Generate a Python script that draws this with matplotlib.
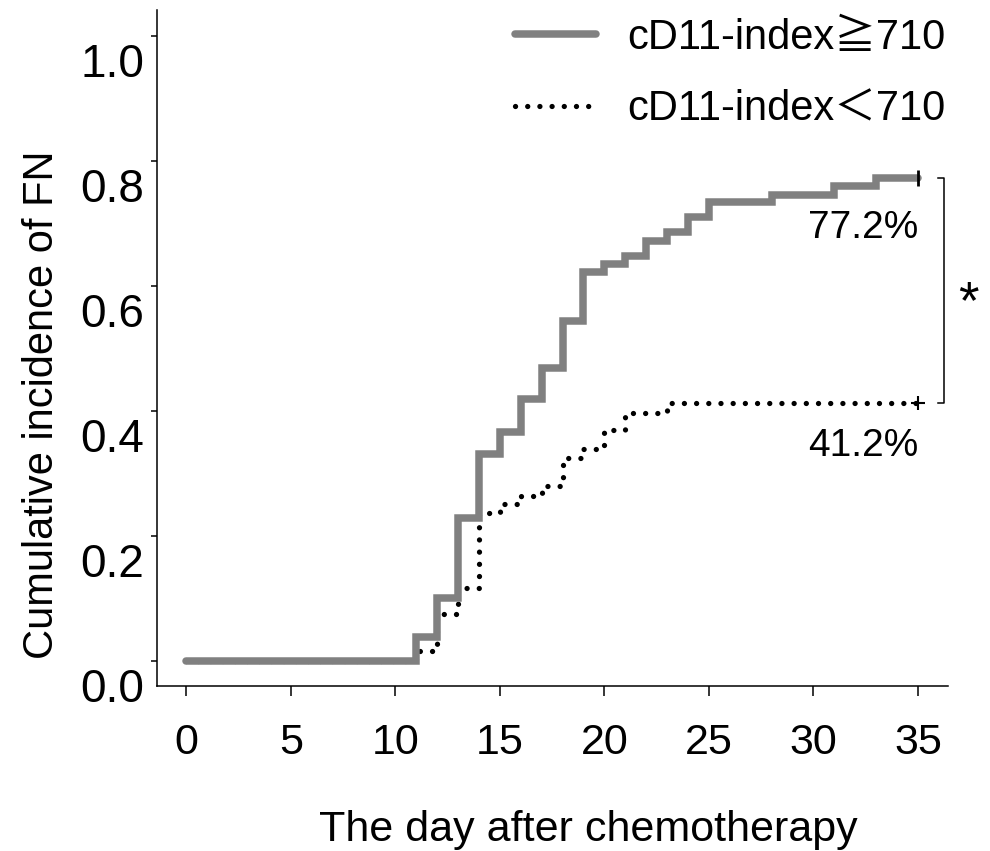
import matplotlib
matplotlib.use("Agg")
import matplotlib.pyplot as plt
import matplotlib.transforms as mtransforms
import numpy as np

# === DATA ===
END_DAY = 35  # end of follow-up
high_days = [0, 11, 12, 13, 14, 15, 16, 17, 18, 19, 20, 21, 22, 23, 24, 25, 28, 31, 33]
high_cum = [0.0, 0.038, 0.101, 0.228, 0.331, 0.366, 0.418, 0.468, 0.544, 0.622,
            0.635, 0.648, 0.672, 0.686, 0.710, 0.734, 0.745, 0.759, 0.772]
low_days = [0, 11, 12, 13, 14, 15, 16, 17, 18, 19, 20, 21, 23]
low_cum = [0.0, 0.015, 0.074, 0.117, 0.236, 0.251, 0.264, 0.280, 0.324, 0.338,
           0.369, 0.397, 0.412]
series_labels = ["cD11-index≧710", "cD11-index＜710"]
end_labels = ["77.2%", "41.2%"]
x_ticks = [0, 5, 10, 15, 20, 25, 30, 35]
y_ticks = [0.0, 0.2, 0.4, 0.6, 0.8, 1.0]
y_tick_labels = ["0.0", "0.2", "0.4", "0.6", "0.8", "1.0"]

# === FONTS ===
REG = ["Liberation Sans", "Noto Sans CJK JP", "DejaVu Sans"]
plt.rcParams["font.family"] = REG


def main():
    fig = plt.figure(figsize=(9.9, 8.51), dpi=100)
    W, H = 990, 851
    ax = fig.add_axes([157 / W, 1 - 686 / H, (948 - 157) / W, (686 - 10) / H])

    hx = np.append(high_days, END_DAY)
    hy = np.append(high_cum, high_cum[-1])
    lx = np.append(low_days, END_DAY)
    ly = np.append(low_cum, low_cum[-1])

    ax.step(lx, ly, where="post", color="black", lw=3.8,
            linestyle=(0, (0.01, 2.3)), dash_capstyle="round", zorder=2,
            label=series_labels[1])
    ax.step(hx, hy, where="post", color="#808080", lw=5.4,
            solid_capstyle="round", solid_joinstyle="miter", zorder=3,
            label=series_labels[0])

    # censor marks at end of follow-up
    ax.plot(END_DAY, hy[-1], marker="|", ms=11, mew=2, color="black", zorder=4)
    ax.plot(END_DAY, ly[-1], marker="+", ms=10, mew=1.5, color="black", zorder=4)

    # end-of-curve percentages
    ax.annotate(end_labels[0], (END_DAY, hy[-1]), xytext=(0, -23),
                textcoords="offset points", ha="right", va="top", fontsize=28)
    ax.annotate(end_labels[1], (END_DAY, ly[-1]), xytext=(0, -18),
                textcoords="offset points", ha="right", va="top", fontsize=28)

    # significance bracket
    bx0, bx1 = END_DAY + 0.96, END_DAY + 1.25
    ax.plot([bx0, bx1, bx1, bx0], [hy[-1], hy[-1], ly[-1], ly[-1]],
            color="black", lw=1.1, clip_on=False)
    ax.annotate("*", (END_DAY + 2.4, (hy[-1] + ly[-1]) / 2), xytext=(0, -10),
                textcoords="offset points", fontsize=38, ha="center",
                va="center", annotation_clip=False)

    ax.set_xlim(-1.40, 36.44)
    ax.set_ylim(-0.0405, 1.041)
    ax.set_xticks(x_ticks)
    ax.set_xticklabels([str(t) for t in x_ticks], fontsize=31)
    ax.set_yticks(y_ticks)
    ax.set_yticklabels(y_tick_labels, fontsize=33)

    for side in ["top", "right"]:
        ax.spines[side].set_visible(False)
    for side in ["left", "bottom"]:
        ax.spines[side].set_linewidth(1.1)
    ax.tick_params(axis="x", length=7, width=1.1, pad=20)
    ax.tick_params(axis="y", length=4.3, width=1.1, pad=5)

    # y tick labels sit a little below their ticks in the original
    for lab in ax.get_yticklabels():
        lab.set_transform(lab.get_transform() + mtransforms.ScaledTranslation(
            0, -24 / 100, fig.dpi_scale_trans))

    fig.text(42 / W, 1 - 405 / H, "Cumulative incidence of FN", rotation=90,
             ha="center", va="center", fontsize=30)
    fig.text(588 / W, 1 - 830 / H, "The day after chemotherapy",
             ha="center", va="center", fontsize=31)

    handles, labels = ax.get_legend_handles_labels()
    ax.legend(handles[::-1], labels[::-1], loc="upper left",
              bbox_to_anchor=(515 / W, 1 - 18 / H),
              bbox_transform=fig.transFigure, frameon=False, fontsize=30,
              handlelength=1.95, handletextpad=0.75, labelspacing=0.75,
              borderpad=0, borderaxespad=0)

    fig.savefig("out.png", dpi=100)


if __name__ == "__main__":
    main()
